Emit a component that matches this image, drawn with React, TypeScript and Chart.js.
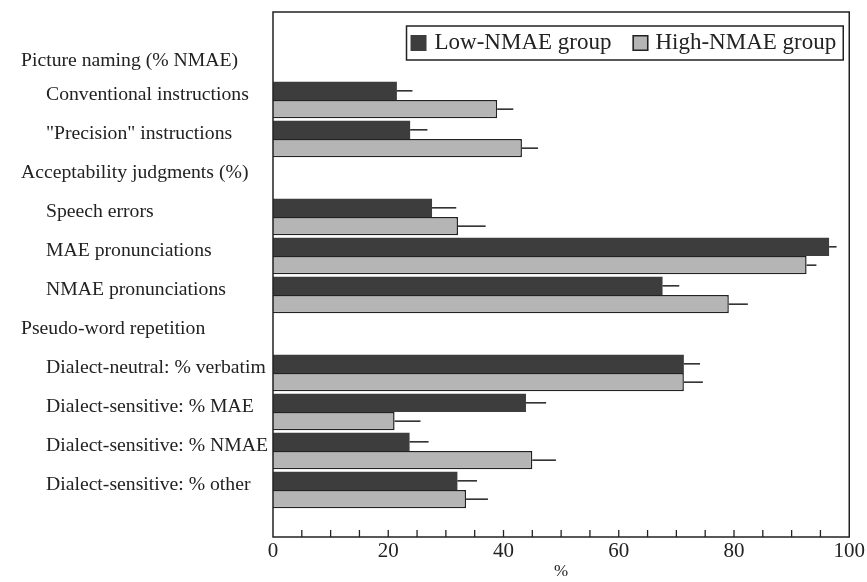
import React, { useEffect, useRef } from 'react';
import { Chart, registerables } from 'chart.js';

Chart.register(...registerables);

const rowLabels = [
  'Picture naming (% NMAE)',
  'Conventional instructions',
  '"Precision" instructions',
  'Acceptability judgments (%)',
  'Speech errors',
  'MAE pronunciations',
  'NMAE pronunciations',
  'Pseudo-word repetition',
  'Dialect-neutral: % verbatim',
  'Dialect-sensitive: % MAE',
  'Dialect-sensitive: % NMAE',
  'Dialect-sensitive: % other',
];
const headerRows = [true, false, false, true, false, false, false, true, false, false, false, false];
const lowValues = [null, 21.5, 23.8, null, 27.6, 96.5, 67.6, null, 71.3, 43.9, 23.7, 32.0];
const lowErrors = [null, 2.7, 3.0, null, 4.2, 1.3, 2.9, null, 2.8, 3.5, 3.3, 3.4];
const highValues = [null, 38.9, 43.2, null, 32.1, 92.6, 79.1, null, 71.3, 21.1, 45.0, 33.5];
const highErrors = [null, 2.8, 2.8, null, 4.8, 1.7, 3.3, null, 3.3, 4.5, 4.1, 3.8];
const xTickLabels = [0, 20, 40, 60, 80, 100];
const seriesNames = ['Low-NMAE group', 'High-NMAE group'];

const FONT = '"Liberation Serif", "DejaVu Serif", serif';
const INK = '#222222';
const DARK = '#3d3d3d';
const GRAY = '#b5b5b5';

function toPoints(values: (number | null)[]) {
  const pts: { x: number; y: number }[] = [];
  values.forEach((v, i) => {
    if (v !== null) pts.push({ x: v, y: i });
  });
  return pts;
}
function toErrors(values: (number | null)[], errs: (number | null)[]) {
  const out: number[] = [];
  values.forEach((v, i) => {
    if (v !== null) out.push(errs[i] as number);
  });
  return out;
}

const framePlugin = {
  id: 'frameAndExtras',
  afterDatasetsDraw(chart: any) {
    const { ctx, scales } = chart;
    const xs = scales.x;
    ctx.save();
    ctx.strokeStyle = INK;
    ctx.lineWidth = 1.5;
    chart.data.datasets.forEach((ds: any, di: number) => {
      const meta = chart.getDatasetMeta(di);
      meta.data.forEach((bar: any, i: number) => {
        const v = ds.data[i].x;
        const e = ds.errors[i];
        const x2 = xs.getPixelForValue(v + e);
        ctx.beginPath();
        ctx.moveTo(bar.x, bar.y);
        ctx.lineTo(x2, bar.y);
        ctx.stroke();
      });
    });
    ctx.restore();
  },
  afterDraw(chart: any) {
    const { ctx, chartArea, scales } = chart;
    const xs = scales.x;
    const ys = scales.y;
    ctx.save();
    ctx.strokeStyle = INK;
    ctx.lineWidth = 1.5;
    ctx.strokeRect(chartArea.left, chartArea.top, chartArea.right - chartArea.left, chartArea.bottom - chartArea.top);
    ctx.lineWidth = 1.3;
    for (let v = 5; v < 100; v += 5) {
      const px = xs.getPixelForValue(v);
      ctx.beginPath();
      ctx.moveTo(px, chartArea.bottom);
      ctx.lineTo(px, chartArea.bottom - 7);
      ctx.stroke();
    }
    ctx.fillStyle = INK;
    ctx.font = `19.7px ${FONT}`;
    ctx.textBaseline = 'middle';
    ctx.textAlign = 'left';
    rowLabels.forEach((lab, i) => {
      const py = ys.getPixelForValue(i) - (i === 0 ? 0 : 5);
      ctx.fillText(lab, headerRows[i] ? 21 : 46, py);
    });
    ctx.font = `23px ${FONT}`;
    const w1 = ctx.measureText(seriesNames[0]).width;
    const w2 = ctx.measureText(seriesNames[1]).width;
    const sq = 16;
    const total = 4 + sq + 8 + w1 + 21 + sq + 7 + w2 + 7;
    const right = chartArea.right - 6;
    const left = right - total;
    const top = chartArea.top + 14;
    const h = 34;
    ctx.lineWidth = 1.5;
    ctx.strokeStyle = INK;
    ctx.fillStyle = '#ffffff';
    ctx.fillRect(left, top, total, h);
    ctx.strokeRect(left, top, total, h);
    const cy = top + h / 2;
    let x = left + 4;
    ctx.fillStyle = DARK;
    ctx.fillRect(x, cy - sq / 2, sq, sq);
    x += sq + 8;
    ctx.fillStyle = INK;
    ctx.fillText(seriesNames[0], x, cy);
    x += w1 + 21;
    ctx.fillStyle = GRAY;
    ctx.fillRect(x, cy - sq / 2, sq, sq);
    ctx.strokeRect(x + 0.75, cy - sq / 2 + 0.75, sq - 1.5, sq - 1.5);
    x += sq + 7;
    ctx.fillStyle = INK;
    ctx.fillText(seriesNames[1], x, cy);
    ctx.restore();
  },
};

export default function App() {
  const ref = useRef<HTMLCanvasElement>(null);
  useEffect(() => {
    if (!ref.current) return;
    const chart = new Chart(ref.current, {
      type: 'bar',
      data: {
        datasets: [
          {
            label: seriesNames[0],
            data: toPoints(lowValues),
            errors: toErrors(lowValues, lowErrors),
            backgroundColor: DARK,
            borderColor: DARK,
            borderWidth: 0,
            categoryPercentage: 0.94,
            barPercentage: 1.0,
          } as any,
          {
            label: seriesNames[1],
            data: toPoints(highValues),
            errors: toErrors(highValues, highErrors),
            backgroundColor: GRAY,
            borderColor: INK,
            borderWidth: 1.5,
            categoryPercentage: 0.94,
            barPercentage: 1.0,
          } as any,
        ],
      },
      options: {
        indexAxis: 'y',
        responsive: false,
        animation: false,
        layout: { padding: { left: 273, right: 16, top: 12, bottom: 0 } },
        plugins: {
          legend: { display: false },
          tooltip: { enabled: false },
        },
        scales: {
          y: {
            type: 'linear',
            reverse: true,
            offset: false,
            grace: 0,
            min: -1.256,
            max: 12.205,
            display: false,
          },
          x: {
            type: 'linear',
            min: 0,
            max: 100,
            offset: false,
            grid: { display: false, drawTicks: false, tickLength: 0 },
            border: { display: false },
            afterBuildTicks: (scale: any) => {
              scale.ticks = xTickLabels.map((v) => ({ value: v }));
            },
            afterFit: (scale: any) => {
              scale.height = 45;
            },
            ticks: {
              color: INK,
              font: { family: FONT, size: 21 },
              padding: 2,
              maxRotation: 0,
              autoSkip: false,
            },
            title: {
              display: true,
              text: '%',
              color: INK,
              font: { family: FONT, size: 17 },
              padding: { top: 0, bottom: 0 },
            },
          },
        },
      },
      plugins: [framePlugin],
    } as any);
    return () => chart.destroy();
  }, []);
  return (
    <div style={{ position: 'fixed', left: 0, top: 0, width: 867, height: 582, background: '#fff' }}>
      <canvas ref={ref} width={867} height={582} style={{ display: 'block' }} />
    </div>
  );
}
